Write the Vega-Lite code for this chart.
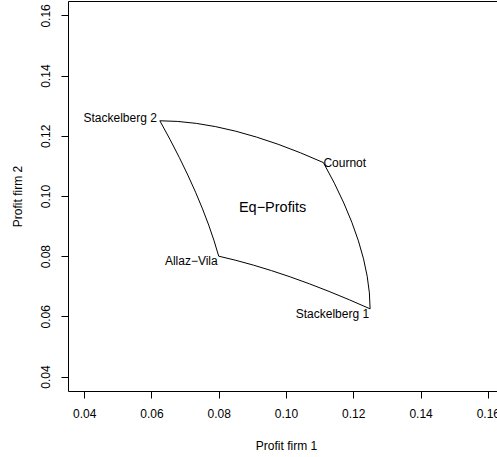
{
  "$schema": "https://vega.github.io/schema/vega-lite/v6.json",
  "width": 436,
  "height": 390,
  "autosize": {"type": "none"},
  "padding": {"left": 68, "top": 1, "right": 0, "bottom": 66},
  "background": "white",
  "config": {
    "view": {"stroke": "black", "strokeWidth": 1},
    "font": "Liberation Sans",
    "axis": {
      "grid": false,
      "domain": false,
      "tickColor": "black",
      "tickSize": 7,
      "labelColor": "black",
      "labelFontSize": 12,
      "labelFont": "Liberation Sans",
      "titleFontSize": 12,
      "titleFont": "Liberation Sans",
      "titleFontWeight": "normal",
      "titleColor": "black"
    }
  },
  "datasets": {
    "curve": [
      {"i": 0, "p1": 0.111111, "p2": 0.111111},
      {"i": 1, "p1": 0.114366, "p2": 0.104275},
      {"i": 2, "p1": 0.117188, "p2": 0.097656},
      {"i": 3, "p1": 0.119575, "p2": 0.091254},
      {"i": 4, "p1": 0.121528, "p2": 0.085069},
      {"i": 5, "p1": 0.123047, "p2": 0.079102},
      {"i": 6, "p1": 0.124132, "p2": 0.073351},
      {"i": 7, "p1": 0.124783, "p2": 0.067817},
      {"i": 8, "p1": 0.125, "p2": 0.0625},
      {"i": 9, "p1": 0.118828, "p2": 0.065508},
      {"i": 10, "p1": 0.112813, "p2": 0.068281},
      {"i": 11, "p1": 0.106953, "p2": 0.07082},
      {"i": 12, "p1": 0.10125, "p2": 0.073125},
      {"i": 13, "p1": 0.095703, "p2": 0.075195},
      {"i": 14, "p1": 0.090313, "p2": 0.077031},
      {"i": 15, "p1": 0.085078, "p2": 0.078633},
      {"i": 16, "p1": 0.08, "p2": 0.08},
      {"i": 17, "p1": 0.078633, "p2": 0.085078},
      {"i": 18, "p1": 0.077031, "p2": 0.090313},
      {"i": 19, "p1": 0.075195, "p2": 0.095703},
      {"i": 20, "p1": 0.073125, "p2": 0.10125},
      {"i": 21, "p1": 0.07082, "p2": 0.106953},
      {"i": 22, "p1": 0.068281, "p2": 0.112813},
      {"i": 23, "p1": 0.065508, "p2": 0.118828},
      {"i": 24, "p1": 0.0625, "p2": 0.125},
      {"i": 25, "p1": 0.067817, "p2": 0.124783},
      {"i": 26, "p1": 0.073351, "p2": 0.124132},
      {"i": 27, "p1": 0.079102, "p2": 0.123047},
      {"i": 28, "p1": 0.085069, "p2": 0.121528},
      {"i": 29, "p1": 0.091254, "p2": 0.119575},
      {"i": 30, "p1": 0.097656, "p2": 0.117188},
      {"i": 31, "p1": 0.104275, "p2": 0.114366},
      {"i": 32, "p1": 0.111111, "p2": 0.111111}
    ],
    "labels": [
      {"name": "Stackelberg 2", "p1": 0.0625, "p2": 0.125},
      {"name": "Cournot", "p1": 0.111111, "p2": 0.111111},
      {"name": "Allaz−Vila", "p1": 0.08, "p2": 0.08},
      {"name": "Stackelberg 1", "p1": 0.125, "p2": 0.0625},
      {"name": "Eq−Profits", "p1": 0.096, "p2": 0.0959}
    ]
  },
  "encoding": {
    "x": {
      "field": "p1",
      "type": "quantitative",
      "scale": {"domain": [0.0352, 0.1648], "nice": false, "zero": false},
      "axis": {
        "title": "Profit firm 1",
        "values": [0.04, 0.06, 0.08, 0.1, 0.12, 0.14, 0.16],
        "format": ".2f",
        "labelBaseline": "middle",
        "labelPadding": 15,
        "titleBaseline": "middle",
        "titleY": 54
      }
    },
    "y": {
      "field": "p2",
      "type": "quantitative",
      "scale": {"domain": [0.0352, 0.1648], "nice": false, "zero": false},
      "axis": {
        "title": "Profit firm 2",
        "values": [0.04, 0.06, 0.08, 0.1, 0.12, 0.14, 0.16],
        "format": ".2f",
        "labelAngle": 270,
        "labelAlign": "center",
        "labelBaseline": "middle",
        "labelPadding": 16,
        "titleAngle": 270,
        "titleBaseline": "middle",
        "titleAlign": "center",
        "titleX": -51
      }
    }
  },
  "layer": [
    {
      "data": {"name": "curve"},
      "mark": {"type": "line", "color": "black", "strokeWidth": 1},
      "encoding": {"order": {"field": "i", "type": "quantitative"}}
    },
    {
      "data": {"name": "labels"},
      "transform": [{"filter": "datum.name == 'Stackelberg 2'"}],
      "mark": {"type": "text", "align": "right", "baseline": "middle", "dx": -3, "dy": -3, "fontSize": 12, "color": "black", "font": "Liberation Sans"},
      "encoding": {"text": {"field": "name"}}
    },
    {
      "data": {"name": "labels"},
      "transform": [{"filter": "datum.name == 'Cournot'"}],
      "mark": {"type": "text", "align": "left", "baseline": "middle", "dx": 0, "dy": 0, "fontSize": 12, "color": "black", "font": "Liberation Sans"},
      "encoding": {"text": {"field": "name"}}
    },
    {
      "data": {"name": "labels"},
      "transform": [{"filter": "datum.name == 'Allaz−Vila' || datum.name == 'Stackelberg 1'"}],
      "mark": {"type": "text", "align": "right", "baseline": "middle", "dx": -1, "dy": 5, "fontSize": 12, "color": "black", "font": "Liberation Sans"},
      "encoding": {"text": {"field": "name"}}
    },
    {
      "data": {"name": "labels"},
      "transform": [{"filter": "datum.name == 'Eq−Profits'"}],
      "mark": {"type": "text", "align": "center", "baseline": "middle", "fontSize": 14.5, "color": "black", "font": "Liberation Sans"},
      "encoding": {"text": {"field": "name"}}
    }
  ]
}
